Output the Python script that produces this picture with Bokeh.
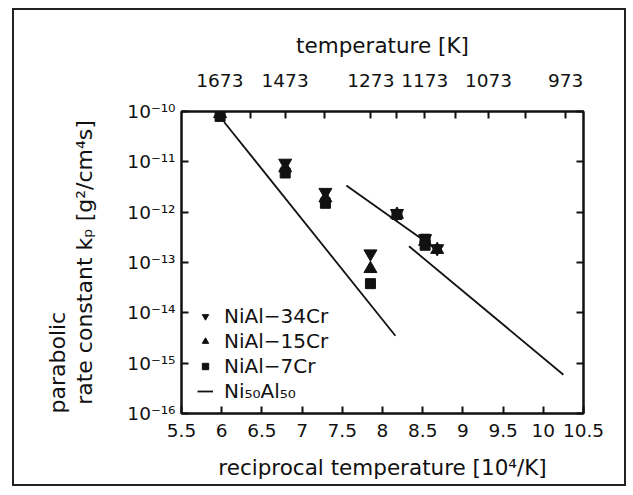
from bokeh.plotting import figure
from bokeh.models import (LinearAxis, LogAxis, FixedTicker, CustomJSTickFormatter,
                          Title, Legend, LegendItem)
from bokeh.embed import file_html
from bokeh.resources import INLINE

# ---------------- data ----------------
x_ticks = [5.5, 6, 6.5, 7, 7.5, 8, 8.5, 9, 9.5, 10, 10.5]
y_ticks = [1e-16, 1e-15, 1e-14, 1e-13, 1e-12, 1e-11, 1e-10]
temp_labeled = [1673, 1473, 1273, 1173, 1073, 973]
temp_minor = [1573, 1373, 1223, 1123, 1023]

cr34_x = [5.98, 6.79, 7.29, 7.85, 8.18, 8.53, 8.68]
cr34_y = [1.0e-10, 9.5e-12, 2.5e-12, 1.5e-13, 9.5e-13, 3.0e-13, 1.9e-13]

cr15_x = [5.98, 6.79, 7.29, 7.85, 8.18, 8.53, 8.68]
cr15_y = [9.0e-11, 7.5e-12, 1.9e-12, 7.5e-14, 9.0e-13, 2.6e-13, 1.8e-13]

cr7_x = [5.98, 6.79, 7.29, 7.85, 8.18, 8.53, 8.53]
cr7_y = [8.0e-11, 6.0e-12, 1.5e-12, 3.8e-14, 9.0e-13, 2.9e-13, 2.2e-13]

ni_seg1_x = [6.03, 8.16]
ni_seg1_y = [6.2e-11, 3.5e-15]
ni_seg2_x = [7.55, 8.70]
ni_seg2_y = [3.4e-12, 1.7e-13]
ni_seg3_x = [8.33, 10.25]
ni_seg3_y = [2.1e-13, 5.9e-16]

FONT = "DejaVu Sans"
BLACK = "#111111"

p = figure(width=614, height=478, x_range=(5.5, 10.5), y_range=(1e-16, 1e-10),
           y_axis_type="log", output_backend="svg", toolbar_location=None,
           min_border_left=167, min_border_right=45, min_border_top=101,
           min_border_bottom=75)
p.styles = {"border": "2px solid #222", "margin-left": "12px", "margin-top": "8px"}
p.xgrid.visible = False
p.ygrid.visible = False
p.outline_line_color = BLACK
p.outline_line_width = 2
p.background_fill_color = "white"
p.border_fill_color = "white"


def style_axis(ax):
    ax.axis_line_color = BLACK
    ax.axis_line_width = 2
    ax.major_tick_in = 7
    ax.major_tick_out = 0
    ax.major_tick_line_width = 2
    ax.major_tick_line_color = BLACK
    ax.minor_tick_in = 0
    ax.minor_tick_out = 0
    ax.major_label_text_font = FONT
    ax.major_label_text_font_size = "18.5px"
    ax.major_label_text_color = BLACK
    ax.axis_label_text_font = FONT
    ax.axis_label_text_font_size = "21.5px"
    ax.axis_label_text_font_style = "normal"
    ax.axis_label_text_color = BLACK


# bottom axis
xa = p.xaxis[0]
style_axis(xa)
xa.ticker = FixedTicker(ticks=x_ticks)
xa.formatter = CustomJSTickFormatter(code="return tick.toString();")
xa.axis_label = "reciprocal temperature [10\u2074/K]"
xa.major_label_standoff = 10
xa.axis_label_standoff = 15

# left axis
ya = p.yaxis[0]
style_axis(ya)
ya.ticker = FixedTicker(ticks=y_ticks)
ya.formatter = CustomJSTickFormatter(code="""
const sup = {'-':'\u207b','0':'\u2070','1':'\u00b9','2':'\u00b2','3':'\u00b3','4':'\u2074',
             '5':'\u2075','6':'\u2076','7':'\u2077','8':'\u2078','9':'\u2079'};
const e = Math.round(Math.log10(tick));
return '10' + String(e).split('').map(c => sup[c]).join('');
""")
ya.axis_label = "rate constant k\u209a [g\u00b2/cm\u2074s]"
ya.axis_label_text_font_size = "22px"
ya.major_label_standoff = 6
ya.axis_label_standoff = 27

# top axis (temperature)
ta = LinearAxis(ticker=FixedTicker(ticks=[1e4 / t for t in temp_labeled],
                                   minor_ticks=[1e4 / t for t in temp_minor]),
                formatter=CustomJSTickFormatter(code="return Math.round(1e4/tick).toString();"))
style_axis(ta)
ta.minor_tick_in = 7
ta.minor_tick_line_width = 2
ta.minor_tick_line_color = BLACK
ta.axis_label = "temperature [K]"
ta.major_label_standoff = 25
ta.axis_label_standoff = 13
p.add_layout(ta, "above")

# right axis
ra = LogAxis(ticker=FixedTicker(ticks=y_ticks),
             formatter=CustomJSTickFormatter(code="return '';"))
style_axis(ra)
p.add_layout(ra, "right")

p.add_layout(Title(text="parabolic", align="left", text_font=FONT,
                   text_font_size="22px", text_font_style="normal",
                   text_color=BLACK, standoff=0), "left")

# data
l1 = p.line(ni_seg1_x, ni_seg1_y, line_color=BLACK, line_width=1.8)
p.line(ni_seg2_x, ni_seg2_y, line_color=BLACK, line_width=1.8)
p.line(ni_seg3_x, ni_seg3_y, line_color=BLACK, line_width=1.8)

r15 = p.scatter(cr15_x, cr15_y, marker="triangle", size=13, color=BLACK)
r34 = p.scatter(cr34_x, cr34_y, marker="inverted_triangle", size=13, color=BLACK)
r7 = p.scatter(cr7_x, cr7_y, marker="square", size=10, color=BLACK)

legend = Legend(items=[
    LegendItem(label="NiAl\u221234Cr", renderers=[r34]),
    LegendItem(label="NiAl\u221215Cr", renderers=[r15]),
    LegendItem(label="NiAl\u22127Cr", renderers=[r7]),
    LegendItem(label="Ni\u2085\u2080Al\u2085\u2080", renderers=[l1]),
], location=(16, 10))
legend.border_line_color = None
legend.background_fill_alpha = 0
legend.label_text_font = FONT
legend.label_text_font_size = "20px"
legend.label_text_color = BLACK
legend.glyph_width = 16
legend.glyph_height = 20
legend.label_height = 20
legend.spacing = 1
legend.label_standoff = 11
legend.padding = 5
legend.margin = 0
p.add_layout(legend, "center")

open("out.html", "w").write(file_html(p, INLINE))
